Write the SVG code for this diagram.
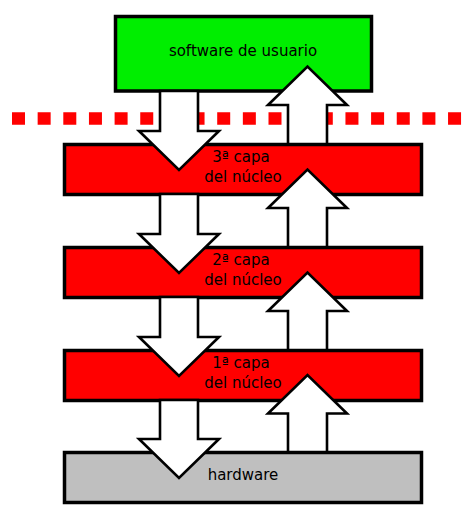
<svg xmlns="http://www.w3.org/2000/svg" width="470" height="517" viewBox="0 0 470 517">
<style>
.box{stroke:#000;stroke-width:3.5}
.green{fill:#00ee00}
.red{fill:#ff0000}
.gray{fill:#bfbfbf}
.lbl{font-family:"DejaVu Sans",sans-serif;font-size:15px;fill:#000;text-anchor:middle}
.arrow{fill:#fff;stroke:#000;stroke-width:2.6;stroke-linejoin:miter}
</style>
<rect width="470" height="517" fill="#fff"/>
<line id="boundary" x1="12" y1="118.5" x2="462" y2="118.5" stroke="#ff0000" stroke-width="12.5" stroke-dasharray="13 12.65"/>
<g id="software">
<rect class="box green" x="115.5" y="16.5" width="256" height="74.5"/>
<text class="lbl" x="243" y="56">software de usuario</text>
</g>
<g id="capa3">
<rect class="box red" x="64.5" y="144.5" width="357" height="50"/>
<text class="lbl" x="241" y="161.5">3ª capa</text>
<text class="lbl" x="243" y="182">del núcleo</text>
</g>
<g id="capa2">
<rect class="box red" x="64.5" y="247.5" width="357" height="50"/>
<text class="lbl" x="241" y="264.5">2ª capa</text>
<text class="lbl" x="243" y="285">del núcleo</text>
</g>
<g id="capa1">
<rect class="box red" x="64.5" y="350.5" width="357" height="50"/>
<text class="lbl" x="241" y="367.5">1ª capa</text>
<text class="lbl" x="243" y="388">del núcleo</text>
</g>
<g id="hardware">
<rect class="box gray" x="64.5" y="452.5" width="357" height="50"/>
<text class="lbl" x="243" y="480">hardware</text>
</g>
<g id="connectors">
<path class="arrow" d="M160,91 V131 H139 L179,170 L219,131 H198 V91 Z"/>
<path class="arrow" d="M160,194 V234 H139 L179,273 L219,234 H198 V194 Z"/>
<path class="arrow" d="M160,297 V337 H139 L179,376 L219,337 H198 V297 Z"/>
<path class="arrow" d="M160,400 V439 H139 L179,478 L219,439 H198 V400 Z"/>
<path class="arrow" d="M288,144 V105 H268 L307.5,66.5 L347,105 H327 V144 Z"/>
<path class="arrow" d="M288,247 V208 H268 L307.5,169.5 L347,208 H327 V247 Z"/>
<path class="arrow" d="M288,350 V311 H268 L307.5,272.5 L347,311 H327 V350 Z"/>
<path class="arrow" d="M288,452 V413.5 H268 L307.5,375 L347,413.5 H327 V452 Z"/>
</g>
</svg>
